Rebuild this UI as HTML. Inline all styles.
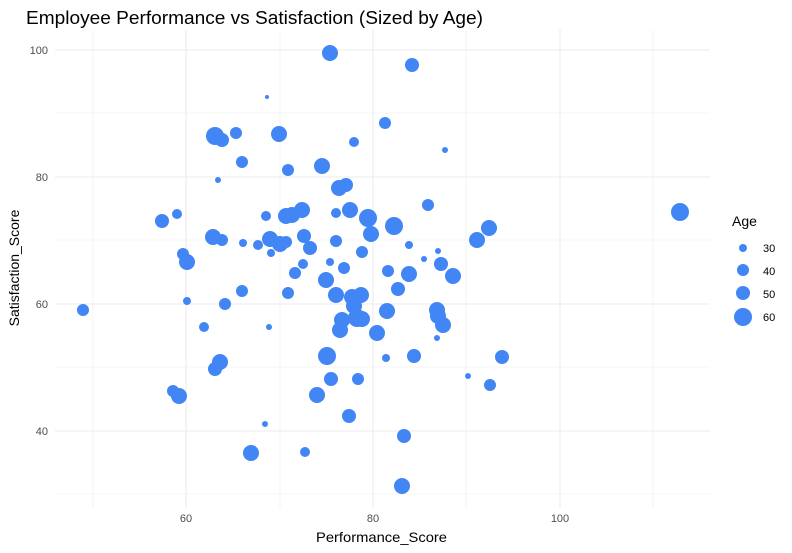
<!DOCTYPE html>
<html><head><meta charset="utf-8"><style>body{margin:0;background:#fff}svg{display:block;font-family:"Liberation Sans",sans-serif}</style></head><body>
<svg width="792" height="553" viewBox="0 0 792 553">
<rect width="792" height="553" fill="#fff"/>
<g stroke="#ebebeb" stroke-width="0.6">
<line x1="93" y1="30" x2="93" y2="508"/><line x1="280" y1="30" x2="280" y2="508"/><line x1="466" y1="30" x2="466" y2="508"/><line x1="653" y1="30" x2="653" y2="508"/>
<line x1="55" y1="113" x2="710" y2="113"/><line x1="55" y1="240" x2="710" y2="240"/><line x1="55" y1="367" x2="710" y2="367"/><line x1="55" y1="494" x2="710" y2="494"/>
</g>
<g stroke="#ebebeb" stroke-width="1.1">
<line x1="186" y1="30" x2="186" y2="508"/><line x1="373" y1="30" x2="373" y2="508"/><line x1="560" y1="30" x2="560" y2="508"/>
<line x1="55" y1="50" x2="710" y2="50"/><line x1="55" y1="177" x2="710" y2="177"/><line x1="55" y1="304" x2="710" y2="304"/><line x1="55" y1="431" x2="710" y2="431"/>
</g>
<g fill="#4285F4">
<circle cx="83" cy="310" r="6"/><circle cx="162" cy="221" r="7"/><circle cx="177" cy="214" r="5"/><circle cx="173" cy="391" r="6"/><circle cx="179" cy="396" r="8"/><circle cx="183" cy="254" r="6"/><circle cx="187" cy="301" r="4"/><circle cx="187" cy="262" r="8"/><circle cx="204" cy="327" r="5"/><circle cx="215" cy="136" r="9"/><circle cx="222" cy="140" r="7"/><circle cx="236" cy="133" r="6"/><circle cx="218" cy="180" r="3"/><circle cx="213" cy="237" r="8"/><circle cx="222" cy="240" r="6"/><circle cx="225" cy="304" r="6"/><circle cx="215" cy="369" r="7"/><circle cx="220" cy="362" r="8"/><circle cx="242" cy="162" r="6"/><circle cx="242" cy="291" r="6"/><circle cx="243" cy="243" r="4"/><circle cx="251" cy="453" r="8"/><circle cx="258" cy="245" r="5"/><circle cx="266" cy="216" r="5"/><circle cx="267" cy="97" r="2"/><circle cx="265" cy="424" r="3"/><circle cx="270" cy="239" r="8"/><circle cx="269" cy="327" r="3"/><circle cx="271" cy="253" r="4"/><circle cx="279" cy="134" r="8"/><circle cx="280" cy="244" r="8"/><circle cx="286" cy="242" r="6"/><circle cx="288" cy="170" r="6"/><circle cx="286" cy="216" r="8"/><circle cx="292" cy="215" r="8"/><circle cx="295" cy="273" r="6"/><circle cx="288" cy="293" r="6"/><circle cx="302" cy="210" r="8"/><circle cx="304" cy="236" r="7"/><circle cx="305" cy="452" r="5"/><circle cx="303" cy="264" r="5"/><circle cx="310" cy="248" r="7"/><circle cx="317" cy="395" r="8"/><circle cx="322" cy="166" r="8"/><circle cx="327" cy="356" r="9"/><circle cx="330" cy="262" r="4"/><circle cx="326" cy="280" r="8"/><circle cx="331" cy="379" r="7"/><circle cx="330" cy="53" r="8"/><circle cx="339" cy="188" r="8"/><circle cx="336" cy="241" r="6"/><circle cx="336" cy="295" r="8"/><circle cx="340" cy="330" r="8"/><circle cx="342" cy="320" r="8"/><circle cx="346" cy="185" r="7"/><circle cx="336" cy="213" r="5"/><circle cx="344" cy="268" r="6"/><circle cx="349" cy="416" r="7"/><circle cx="350" cy="210" r="8"/><circle cx="352" cy="297" r="8"/><circle cx="354" cy="306" r="8"/><circle cx="357" cy="318" r="9"/><circle cx="362" cy="319" r="8"/><circle cx="354" cy="142" r="5"/><circle cx="358" cy="379" r="6"/><circle cx="362" cy="252" r="6"/><circle cx="368" cy="218" r="9"/><circle cx="371" cy="234" r="8"/><circle cx="377" cy="333" r="8"/><circle cx="385" cy="123" r="6"/><circle cx="388" cy="271" r="6"/><circle cx="387" cy="311" r="8"/><circle cx="386" cy="358" r="4"/><circle cx="394" cy="226" r="9"/><circle cx="398" cy="289" r="7"/><circle cx="404" cy="436" r="7"/><circle cx="402" cy="486" r="8"/><circle cx="409" cy="245" r="4"/><circle cx="409" cy="274" r="8"/><circle cx="412" cy="65" r="7"/><circle cx="414" cy="356" r="7"/><circle cx="424" cy="259" r="3"/><circle cx="428" cy="205" r="6"/><circle cx="438" cy="251" r="3"/><circle cx="437" cy="338" r="3"/><circle cx="441" cy="264" r="7"/><circle cx="437" cy="310" r="8"/><circle cx="438" cy="316" r="8"/><circle cx="443" cy="325" r="8"/><circle cx="445" cy="150" r="3"/><circle cx="453" cy="276" r="8"/><circle cx="468" cy="376" r="3"/><circle cx="477" cy="240" r="8"/><circle cx="489" cy="228" r="8"/><circle cx="490" cy="385" r="6"/><circle cx="502" cy="357" r="7"/><circle cx="680" cy="212" r="9"/><circle cx="361" cy="295" r="8"/>
</g>
<g font-size="11" fill="#4d4d4d">
<text x="186" y="522" text-anchor="middle">60</text><text x="373" y="522" text-anchor="middle">80</text><text x="560" y="522" text-anchor="middle">100</text>
<text x="48" y="54" text-anchor="end">100</text><text x="48" y="181" text-anchor="end">80</text><text x="48" y="308" text-anchor="end">60</text><text x="48" y="435" text-anchor="end">40</text>
</g>
<text x="316" y="542" font-size="14" textLength="131" lengthAdjust="spacingAndGlyphs" fill="#000">Performance_Score</text>
<text transform="translate(19,268) rotate(-90)" font-size="14" text-anchor="middle" fill="#000">Satisfaction_Score</text>
<text x="26" y="24" font-size="18" textLength="457" lengthAdjust="spacingAndGlyphs" fill="#000">Employee Performance vs Satisfaction (Sized by Age)</text>
<text x="732" y="226" font-size="14" fill="#000">Age</text>
<g fill="#4285F4"><circle cx="743" cy="248" r="4"/><circle cx="743" cy="270" r="6"/><circle cx="743" cy="293" r="7"/><circle cx="743" cy="317" r="9"/></g>
<g font-size="11" fill="#000"><text x="763" y="252">30</text><text x="763" y="275">40</text><text x="763" y="298">50</text><text x="763" y="321">60</text></g>
</svg>
</body></html>
